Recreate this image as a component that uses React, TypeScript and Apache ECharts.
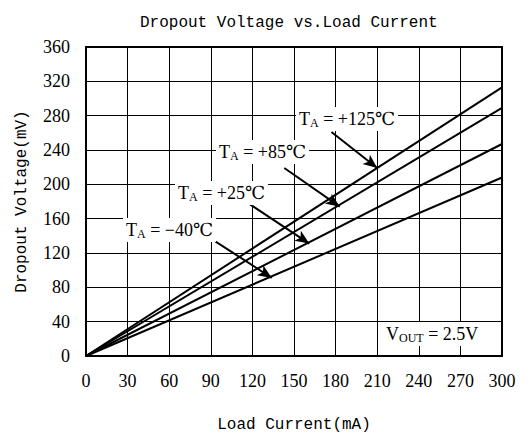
import React, { useEffect, useRef } from "react";
import * as echarts from "echarts";

const xTicks = [0, 30, 60, 90, 120, 150, 180, 210, 240, 270, 300];
const yTicks = [0, 40, 80, 120, 160, 200, 240, 280, 320, 360];
const currents = [0, 300];
const v125 = [0, 313];
const v85 = [0, 289];
const v25 = [0, 247];
const vm40 = [0, 208];
const seriesNames = ["+125℃", "+85℃", "+25℃", "−40℃"];
const seriesValues = [v125, v85, v25, vm40];
// arrow start/end in data coordinates (mA, mV)
const arrows = [
  [[177, 261], [210, 219]],
  [[143, 219], [183, 174]],
  [[118, 177], [161, 131]],
  [[89, 138], [134, 91]],
];

const SERIF = "'Liberation Serif', 'DejaVu Serif', serif";
const MONO = "'Liberation Mono', 'DejaVu Sans Mono', monospace";

export default function App() {
  const ref = useRef<HTMLDivElement>(null);
  useEffect(() => {
    const chart = echarts.init(ref.current!, null, { renderer: "svg" });
    const series: any[] = seriesValues.map((vals, i) => ({
      type: "line",
      name: seriesNames[i],
      data: currents.map((c, j) => [c, vals[j]]),
      symbol: "none",
      lineStyle: { color: "#000", width: 2 },
      z: 3,
      markLine: {
        silent: true,
        symbol: ["none", "arrow"],
        symbolSize: [9, 14],
        label: { show: false },
        lineStyle: { color: "#000", width: 2, type: "solid" },
        data: [[{ coord: arrows[i][0] }, { coord: arrows[i][1] }]],
      },
    }));
    const rich = {
      t: { fontFamily: SERIF, fontSize: 18, color: "#000" },
      s: { fontFamily: SERIF, fontSize: 12, color: "#000", verticalAlign: "bottom", padding: [8, 0, 0, 0] },
    };
    const mkLabel = (x: number, y: number, txt: string) => ({
      type: "text",
      left: x,
      top: y,
      z: 10,
      style: {
        text: "{t|T}{s|A}{t| = " + txt + "}",
        rich,
        backgroundColor: "#fff",
        padding: [2, 3, 2, 3],
      },
    });
    chart.setOption({
      animation: false,
      backgroundColor: "#fff",
      title: {
        text: "Dropout Voltage vs.Load Current",
        left: 135,
        top: 10,
        textStyle: { fontFamily: MONO, fontSize: 16, fontWeight: "normal", color: "#000" },
      },
      grid: { left: 86, right: 27, top: 47, bottom: 75, show: true, borderColor: "#000", borderWidth: 2, z: 4 },
      xAxis: {
        type: "value",
        min: 0,
        max: 300,
        interval: 30,
        name: "Load Current(mA)",
        nameLocation: "middle",
        nameGap: 61,
        nameTextStyle: { fontFamily: MONO, fontSize: 16, color: "#000" },
        axisLine: { show: false },
        axisTick: { show: false },
        axisLabel: {
          margin: 16,
          fontFamily: SERIF,
          fontSize: 18,
          color: "#000",
          formatter: (v: number) => (xTicks.includes(v) ? String(v) : ""),
        },
        splitLine: { show: true, lineStyle: { color: "#000", width: 1 } },
      },
      yAxis: {
        type: "value",
        min: 0,
        max: 360,
        interval: 40,
        name: "Dropout Voltage(mV)",
        nameLocation: "middle",
        nameGap: 56,
        nameTextStyle: { fontFamily: MONO, fontSize: 16, color: "#000" },
        axisLine: { show: false },
        axisTick: { show: false },
        axisLabel: {
          margin: 16,
          fontFamily: SERIF,
          fontSize: 18,
          color: "#000",
          formatter: (v: number) => (yTicks.includes(v) ? String(v) : ""),
        },
        splitLine: { show: true, lineStyle: { color: "#000", width: 1 } },
      },
      series,
      graphic: [
        mkLabel(296, 107, seriesNames[0]),
        mkLabel(216, 140, seriesNames[1]),
        mkLabel(175, 181, seriesNames[2]),
        mkLabel(123, 218, seriesNames[3]),
        {
          type: "text",
          left: 383,
          top: 322,
          z: 10,
          style: {
            text: "{t|V}{s|OUT}{t| = 2.5V}",
            rich,
            backgroundColor: "#fff",
            padding: [2, 3, 2, 3],
          },
        },
      ],
    });
    return () => chart.dispose();
  }, []);
  return <div ref={ref} style={{ position: "fixed", left: 0, top: 0, width: 529, height: 438 }} />;
}
